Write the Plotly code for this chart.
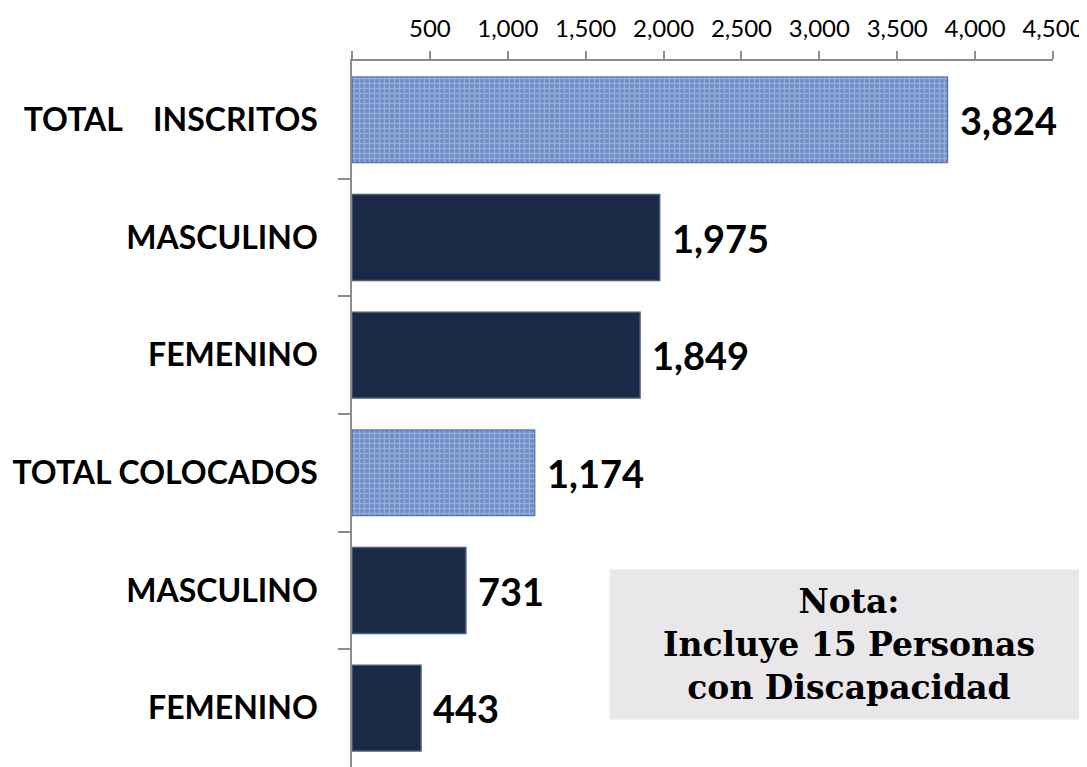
import plotly.graph_objects as go

categories = ["TOTAL\u00a0\u00a0\u00a0\u00a0INSCRITOS", "MASCULINO", "FEMENINO",
              "TOTAL COLOCADOS", "MASCULINO", "FEMENINO"]
values = [3824, 1975, 1849, 1174, 731, 443]
is_total = [True, False, False, True, False, False]
x_ticks = [0, 500, 1000, 1500, 2000, 2500, 3000, 3500, 4000, 4500]
x_ticktext = ["", "500", "1,000", "1,500", "2,000", "2,500", "3,000", "3,500", "4,000", "4,500"]
note_text = "Nota:<br>Incluye 15 Personas<br>con Discapacidad"

pos = list(range(len(categories)))
fig = go.Figure()

tot_y = [p for p, t in zip(pos, is_total) if t]
tot_x = [v for v, t in zip(values, is_total) if t]
oth_y = [p for p, t in zip(pos, is_total) if not t]
oth_x = [v for v, t in zip(values, is_total) if not t]

fig.add_trace(go.Bar(
    y=tot_y, x=tot_x, orientation="h", width=0.73,
    marker=dict(color="#6d8cc4", line=dict(color="#4b659a", width=1),
                pattern=dict(shape="+", fgcolor="#bcd0f2", size=5, solidity=0.45)),
    hoverinfo="x", showlegend=False))
fig.add_trace(go.Bar(
    y=oth_y, x=oth_x, orientation="h", width=0.73,
    marker=dict(color="#1a2a46", line=dict(color="#4a5c7a", width=1.5)),
    hoverinfo="x", showlegend=False))

for p, v in zip(pos, values):
    fig.add_annotation(x=v, y=p, xref="x", yref="y", text=f"{v:,}",
                       showarrow=False, xanchor="left", yanchor="middle", xshift=10,
                       font=dict(family="Lato", size=38, color="#000000", weight="bold"))

fig.add_annotation(xref="paper", yref="paper", x=0.3666, y=0.281,
                   xanchor="left", yanchor="top", text=note_text, showarrow=False,
                   align="center", width=474, height=145, borderpad=2,
                   bgcolor="#e9e7ea",
                   font=dict(family="DejaVu Serif", size=33, color="#000000", weight="bold"))

fig.update_layout(
    width=1079, height=759,
    margin=dict(l=344, r=34, t=53, b=0, autoexpand=False),
    paper_bgcolor="white", plot_bgcolor="white",
    bargap=0.27,
    xaxis=dict(side="top", range=[0, 4500], tickvals=x_ticks, ticktext=x_ticktext,
               automargin=False, ticklabelstandoff=5,
               showgrid=False, zeroline=False, showline=True, linecolor="#8c8c8c", linewidth=1.5,
               ticks="outside", ticklen=8, tickcolor="#8c8c8c", tickwidth=1.5,
               tickfont=dict(family="Lato", size=24, color="#000000")),
    yaxis=dict(range=[5.5, -0.5], tickvals=pos, ticktext=categories, automargin=False,
               showgrid=False, zeroline=False, showline=True, linecolor="#8c8c8c", linewidth=1.5,
               ticks="", ticklabelstandoff=26,
               minor=dict(tickvals=[0.5, 1.5, 2.5, 3.5, 4.5], ticks="outside", ticklen=12,
                          tickcolor="#8c8c8c", tickwidth=1.5, showgrid=False),
               tickfont=dict(family="Lato", size=32, color="#000000", weight="bold")),
)

fig.write_html("out.html")
